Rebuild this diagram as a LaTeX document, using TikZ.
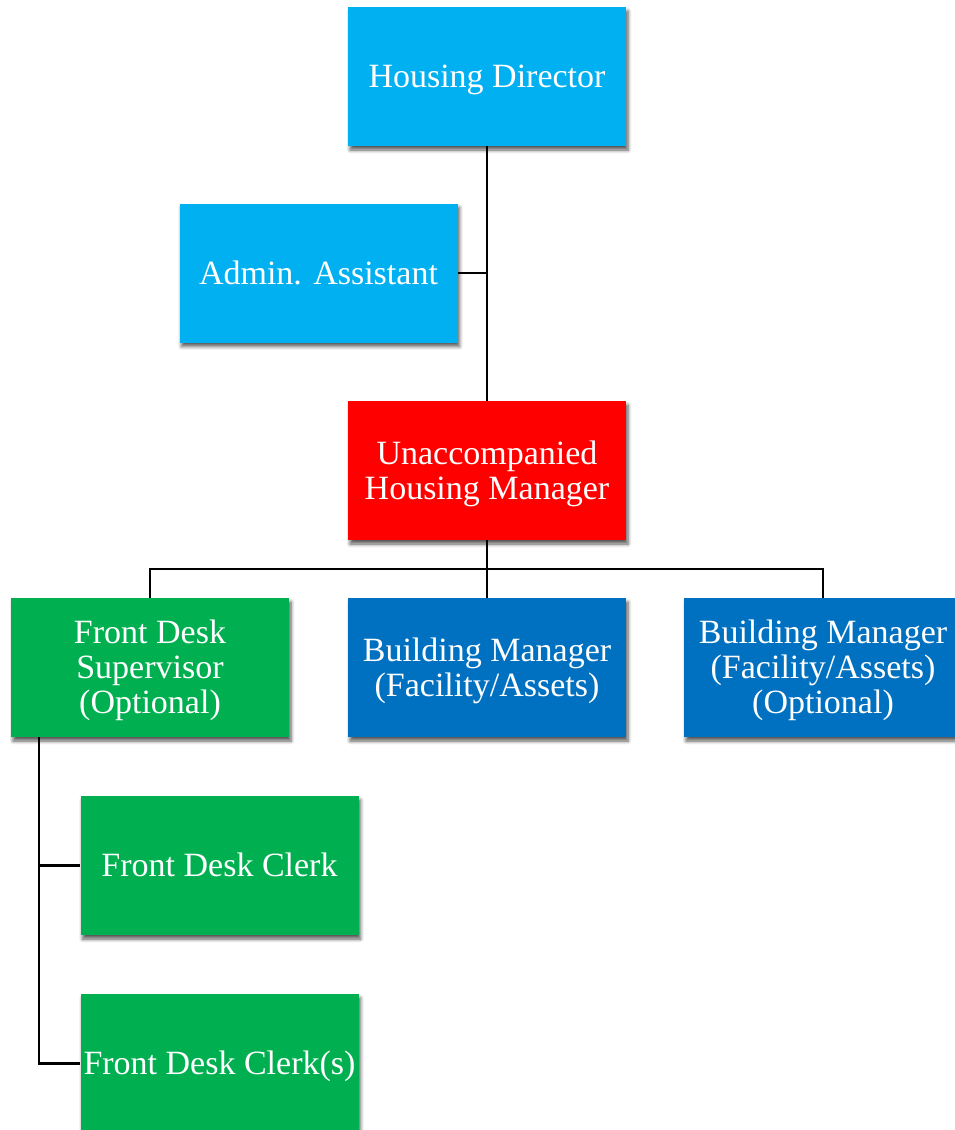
\documentclass[tikz,border=0pt]{standalone}
\usepackage{fontspec}
\setmainfont{Liberation Serif}
\usetikzlibrary{shadows.blur}
\definecolor{skyfill}{HTML}{00B0F0}
\definecolor{redfill}{HTML}{FF0000}
\definecolor{greenfill}{HTML}{00B050}
\definecolor{bluefill}{HTML}{0070C0}
\tikzset{
  orgbox/.style={rectangle, minimum width=278pt, minimum height=139pt,
    inner sep=0pt, align=center, text=white,
    font=\fontsize{34}{35}\selectfont,
    blur shadow={shadow xshift=2pt, shadow yshift=-4pt,
      shadow blur radius=3.5pt, shadow blur steps=6, shadow opacity=65}},
  link/.style={draw=black, line width=2.2pt}
}
% push the label a little below the box centre, keeping its size
\newcommand{\boxtext}[1]{\raisebox{-4pt}[\height][\depth]{\begin{tabular}{@{}c@{}}#1\end{tabular}}}
\begin{document}
\begin{tikzpicture}[x=1pt, y=-1pt]
\useasboundingbox (0,0) rectangle (954,1130);
% boxes
\node[orgbox, fill=skyfill]   (dir)  at (487,76.5)   {\boxtext{Housing Director}};
\node[orgbox, fill=skyfill]   (adm)  at (318.5,273)  {\boxtext{Admin. Assistant}};
\node[orgbox, fill=redfill]   (uhm)  at (487,470.5)  {\boxtext{Unaccompanied\\Housing Manager}};
\node[orgbox, fill=greenfill] (fds)  at (150,667.5)  {\boxtext{Front Desk\\Supervisor\\(Optional)}};
\node[orgbox, fill=bluefill]  (bm)   at (487,667.5)  {\boxtext{Building Manager\\(Facility/Assets)}};
\node[orgbox, fill=bluefill]  (bmo)  at (823,667.5)  {\boxtext{Building Manager\\(Facility/Assets)\\(Optional)}};
\node[orgbox, fill=greenfill] (fdc)  at (219.5,865.5) {\boxtext{Front Desk Clerk}};
\node[orgbox, fill=greenfill] (fdcs) at (219.5,1063.5) {\boxtext{Front Desk Clerk(s)}};
% connectors
\coordinate (bar) at (487,569);
\coordinate (fdsx) at (39,737);
\draw[link] (dir.south) -- (uhm.north);
\draw[link] (adm.east) -- (adm.east -| dir.south);
\draw[link] (uhm.south) -- (bar);
\draw[link] (fds.north) |- (bar) -| (bmo.north);
\draw[link] (bar) -- (bm.north);
\draw[link] (fdsx) |- (fdc.west);
\draw[link] (fdsx) |- (fdcs.west);
\end{tikzpicture}
\end{document}
